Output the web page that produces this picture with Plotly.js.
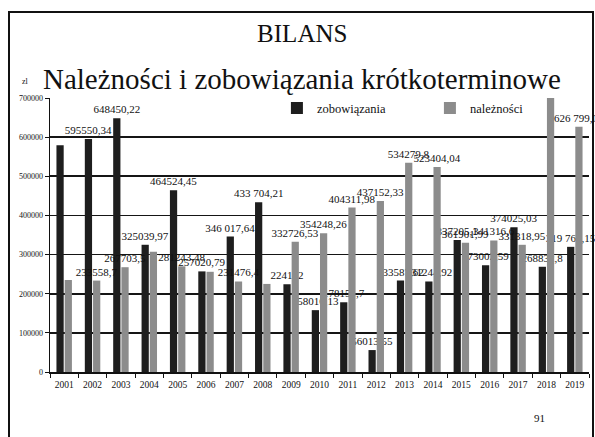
<!DOCTYPE html>
<html>
<head>
<meta charset="utf-8">
<script src="https://cdn.plot.ly/plotly-3.0.1.min.js"></script>
<style>
  html, body { margin: 0; padding: 0; background: #fff; }
  #wrap { position: relative; width: 595px; height: 437px; overflow: hidden; }
  #chart { width: 595px; height: 437px; }
  #frame { position: absolute; left: 8px; top: 11px; width: 582px; height: 450px;
           border: 2px solid #111; pointer-events: none; }
</style>
</head>
<body>
<div id="wrap">
  <div id="chart"></div>
  <div id="frame"></div>
</div>
<script>
const years = ['2001','2002','2003','2004','2005','2006','2007','2008','2009','2010',
               '2011','2012','2013','2014','2015','2016','2017','2018','2019'];

const zobowiazania = [579000, 595550.34, 648450.22, 325039.97, 464524.45, 257020.79, 346017.64,
                      433704.21, 224182, 158010.13, 178151.7, 56013.55, 233587.62, 231244.92,
                      337205.1, 273002.59, 370000, 268832.8, 319760.15];
const zobowiazaniaLabels = ['', '595550,34', '648450,22', '325039,97', '464524,45', '257020,79',
                            '346 017,64', '433 704,21', '224182', '158010,13', '178151,7', '56013,55',
                            '233587,62', '231244,92', '337205,1', '273002,59', '374025,03',
                            '268832,8', '319 760,15'];

const naleznosci = [235000, 233558.7, 267703.5, 307000, 270000, 256000, 231476.4, 225000,
                    332726.53, 354248.26, 420000, 437152.33, 534279.8, 523404.04, 330000,
                    336000, 325000, 705000, 626799.06];
const naleznosciLabels = ['', '233558,7', '267703,5', '', '281243,48', '', '231476,4', '',
                          '332726,53', '354248,26', '404311,98', '437152,33', '534279,8',
                          '523404,04', '361901,99', '341316,6', '331318,95', '', '626 799,06'];

const serif = 'Liberation Serif, Times New Roman, serif';

const traces = [
  {
    type: 'bar', name: 'zobowiązania', x: years, y: zobowiazania,
    text: zobowiazaniaLabels, textposition: 'outside', textangle: 0,
    constraintext: 'none', cliponaxis: false,
    textfont: {family: serif, size: 11, color: '#111'},
    marker: {color: '#1e1e1e'}, hoverinfo: 'x+y'
  },
  {
    type: 'bar', name: 'należności', x: years, y: naleznosci,
    text: naleznosciLabels, textposition: 'outside', textangle: 0,
    constraintext: 'none', cliponaxis: false,
    textfont: {family: serif, size: 11, color: '#111'},
    marker: {color: '#8c8c8c'}, hoverinfo: 'x+y'
  }
];

const layout = {
  width: 595, height: 437,
  margin: {l: 50, r: 6, t: 98, b: 65, autoexpand: false},
  paper_bgcolor: '#ffffff', plot_bgcolor: '#ffffff',
  font: {family: serif, color: '#111'},
  barmode: 'group', bargap: 0.42, bargroupgap: 0.12,
  title: {
    text: 'BILANS', font: {family: serif, size: 25, color: '#111'},
    x: 0.508, xanchor: 'center', xref: 'container',
    y: 0.925, yanchor: 'middle', yref: 'container'
  },
  annotations: [
    {text: 'Należności i zobowiązania krótkoterminowe', xref: 'paper', yref: 'paper',
     x: 0.4675, y: 1.07, xanchor: 'center', yanchor: 'middle', showarrow: false,
     font: {family: serif, size: 29, color: '#111'}},
    {text: 'zl', xref: 'paper', yref: 'paper', x: -0.046, y: 1.06,
     xanchor: 'center', yanchor: 'middle', showarrow: false,
     font: {family: serif, size: 8, color: '#111'}},
    {text: '91', xref: 'paper', yref: 'paper', x: 0.909, y: -0.168,
     xanchor: 'center', yanchor: 'middle', showarrow: false,
     font: {family: serif, size: 11, color: '#111'}}
  ],
  legend: {
    orientation: 'h', x: 0.421, y: 0.962, xanchor: 'left', yanchor: 'middle',
    bgcolor: 'rgba(0,0,0,0)', entrywidth: 108, itemwidth: 30,
    font: {family: serif, size: 12.5, color: '#111'}
  },
  xaxis: {
    type: 'category', tickson: 'boundaries', ticks: 'outside', ticklen: 4,
    tickcolor: '#111', tickwidth: 1, tickangle: 0, ticklabelstandoff: 3,
    showline: true, linecolor: '#111', linewidth: 1.5,
    tickfont: {family: serif, size: 9.5, color: '#111'},
    showgrid: false, fixedrange: true
  },
  yaxis: {
    range: [0, 700000], dtick: 100000, tickformat: 'd',
    ticks: 'outside', ticklen: 4, tickcolor: '#111',
    showline: true, linecolor: '#111', linewidth: 1.5,
    showgrid: true, gridcolor: '#151515', gridwidth: 1.8,
    zeroline: false,
    tickfont: {family: serif, size: 8, color: '#111'}, fixedrange: true
  }
};

Plotly.newPlot('chart', traces, layout, {displayModeBar: false, staticPlot: true});
</script>
</body>
</html>
